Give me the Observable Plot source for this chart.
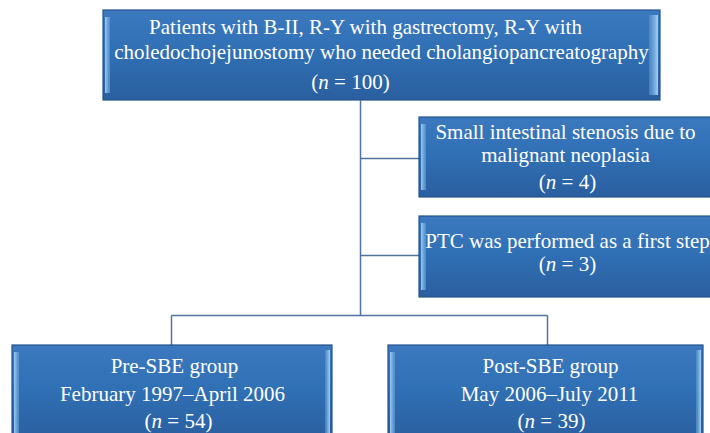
<!DOCTYPE html>
<html>
<head>
<meta charset="utf-8">
<script src="https://cdn.jsdelivr.net/npm/d3@7"></script>
<script src="https://cdn.jsdelivr.net/npm/@observablehq/plot@0.6"></script>
<style>
  html, body { margin: 0; padding: 0; background: #ffffff; }
  #chart svg { display: block; }
</style>
</head>
<body>
<div id="chart"></div>
<script>
// ---- Data ----
const boxIds = ["top", "stenosis", "ptc", "pre", "post"];
const boxTitles = [
  ["Patients with B-II, R-Y with gastrectomy, R-Y with", "choledochojejunostomy who needed cholangiopancreatography"],
  ["Small intestinal stenosis due to", "malignant neoplasia"],
  ["PTC was performed as a first step"],
  ["Pre-SBE group", "February 1997\u2013April 2006"],
  ["Post-SBE group", "May 2006\u2013July 2011"]
];
const boxN = [100, 4, 3, 54, 39];

// ---- Layout (pixel geometry, kept separate from data) ----
const W = 710, H = 433;
const geom = {
  top:      {x1: 103, x2: 660, y1: 10,  y2: 100},
  stenosis: {x1: 419, x2: 713, y1: 117, y2: 197},
  ptc:      {x1: 419, x2: 713, y1: 216, y2: 297},
  pre:      {x1: 12,  x2: 332, y1: 345, y2: 440},
  post:     {x1: 388, x2: 703, y1: 345, y2: 440}
};
// per-line text anchor (center x, baseline y)
const lineLayout = {
  top:      [[365, 33], [381, 58], [350, 88]],
  stenosis: [[565, 138], [565, 161], [567, 188]],
  ptc:      [[567, 247], [567, 270]],
  pre:      [[174, 372], [172, 400], [178, 427]],
  post:     [[550, 372], [549, 400], [551, 427]]
};
const connectors = [
  {x1: 360, y1: 100, x2: 360, y2: 315},
  {x1: 360, y1: 158, x2: 419, y2: 158},
  {x1: 360, y1: 255, x2: 419, y2: 255},
  {x1: 171, y1: 315, x2: 547, y2: 315},
  {x1: 171, y1: 315, x2: 171, y2: 345},
  {x1: 547, y1: 315, x2: 547, y2: 345}
];

const boxes = boxIds.map((id, i) => ({id, ...geom[id]}));
const leftBevels = boxes.map(b => ({x1: b.x1 + 2, x2: b.x1 + 7, y1: b.y1 + 7, y2: Math.min(b.y2, H + 10) - 7}));
const rightBevels = boxes.filter(b => b.x2 <= W).map(b => ({x1: b.x2 - (b.id === "top" ? 11 : 7), x2: b.x2 - 2, y1: b.y1 + 5, y2: Math.min(b.y2, H + 10) - 5}));

const lines = [];
boxIds.forEach((id, i) => {
  const texts = [...boxTitles[i], `(n = ${boxN[i]})`];
  texts.forEach((t, j) => {
    const [x, y] = lineLayout[id][j];
    lines.push({text: t, x, y});
  });
});

const chart = Plot.plot({
  width: W,
  height: H,
  margin: 0,
  x: {domain: [0, W], range: [0, W], axis: null},
  y: {domain: [0, H], range: [0, H], axis: null},
  style: {background: "#ffffff"},
  marks: [
    Plot.link(connectors, {x1: "x1", y1: "y1", x2: "x2", y2: "y2", stroke: "#4f73a0", strokeWidth: 1.5}),
    Plot.rect(boxes, {x1: "x1", x2: "x2", y1: "y1", y2: "y2", fill: "url(#boxGrad)", stroke: "#24538e", strokeWidth: 1.2}),
    Plot.rect(leftBevels, {x1: "x1", x2: "x2", y1: "y1", y2: "y2", fill: "url(#bevelL)"}),
    Plot.rect(rightBevels, {x1: "x1", x2: "x2", y1: "y1", y2: "y2", fill: "url(#bevelR)"}),
    Plot.text(lines, {
      x: "x", y: "y", text: "text",
      fill: "#ffffff",
      fontSize: 21,
      fontFamily: "'Liberation Serif', 'DejaVu Serif', serif",
      textAnchor: "middle",
      lineAnchor: "bottom"
    })
  ]
});

// gradient definitions
const ns = "http://www.w3.org/2000/svg";
const defs = document.createElementNS(ns, "defs");
defs.innerHTML = `
  <linearGradient id="boxGrad" x1="0" y1="0" x2="0" y2="1">
    <stop offset="0" stop-color="#3c79bf"/>
    <stop offset="0.45" stop-color="#3070b5"/>
    <stop offset="1" stop-color="#2a5f9f"/>
  </linearGradient>
  <linearGradient id="bevelL" x1="0" y1="0" x2="1" y2="0">
    <stop offset="0" stop-color="#9fd0f5" stop-opacity="0.95"/>
    <stop offset="1" stop-color="#5f9bd6" stop-opacity="0.6"/>
  </linearGradient>
  <linearGradient id="bevelR" x1="0" y1="0" x2="1" y2="0">
    <stop offset="0" stop-color="#5f9bd6" stop-opacity="0.5"/>
    <stop offset="1" stop-color="#a8d6f6" stop-opacity="0.95"/>
  </linearGradient>`;
chart.insertBefore(defs, chart.firstChild);

// italic n in "(n = ...)"
chart.querySelectorAll("text").forEach(t => {
  const m = /^\(n = (\d+)\)$/.exec(t.textContent);
  if (m) {
    t.innerHTML = `(<tspan font-style="italic">n</tspan> = ${m[1]})`;
  }
});

document.getElementById("chart").appendChild(chart);
</script>
</body>
</html>
